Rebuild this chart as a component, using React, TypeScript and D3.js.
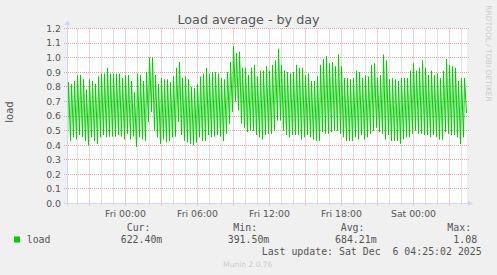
import React from "react";
import * as d3 from "d3";

// ---- data (one value per 15-minute cycle) ----
const peaks: number[] = [
  0.83, 0.82, 0.84, 0.88, 0.88, 0.85, 0.78, 0.85, 0.84, 0.82,
  0.87, 0.89, 0.89, 0.93, 0.89, 0.89, 0.89, 0.89, 0.86, 0.88,
  0.88, 0.84, 0.76, 0.89, 0.88, 0.84, 0.90, 1.00, 1.00, 0.88,
  0.82, 0.86, 0.85, 0.85, 0.83, 0.87, 0.93, 0.97, 0.86, 0.87,
  0.85, 0.80, 0.79, 0.82, 0.87, 0.89, 0.93, 0.89, 0.90, 0.90,
  0.89, 0.86, 0.85, 0.90, 0.97, 1.08, 1.03, 1.04, 0.93, 0.93,
  0.88, 0.93, 0.95, 0.87, 0.91, 0.91, 0.94, 0.91, 0.95, 0.98,
  1.06, 0.95, 0.91, 0.90, 0.89, 0.90, 0.95, 0.93, 0.93, 0.88,
  0.89, 0.84, 0.84, 0.87, 0.95, 0.99, 1.01, 0.96, 0.97, 0.94,
  1.02, 0.94, 0.86, 0.86, 0.85, 0.86, 0.91, 0.90, 0.86, 0.88,
  0.87, 0.95, 0.96, 0.86, 0.88, 1.02, 0.98, 0.85, 0.86, 0.85,
  0.84, 0.86, 0.86, 0.86, 0.91, 0.96, 0.91, 0.93, 0.98, 0.93,
  0.88, 0.91, 0.88, 0.89, 0.86, 0.91, 0.99, 0.95, 0.94, 0.93,
  0.84, 0.86, 0.86,
];

const troughs: number[] = [
  0.45, 0.43, 0.455, 0.44, 0.47, 0.455, 0.43, 0.40, 0.455, 0.43,
  0.41, 0.455, 0.47, 0.455, 0.46, 0.46, 0.46, 0.47, 0.46, 0.44,
  0.48, 0.44, 0.46, 0.39, 0.455, 0.44, 0.43, 0.56, 0.63, 0.50,
  0.455, 0.41, 0.44, 0.42, 0.43, 0.455, 0.46, 0.56, 0.47, 0.43,
  0.42, 0.41, 0.40, 0.42, 0.455, 0.43, 0.43, 0.47, 0.455, 0.46,
  0.47, 0.46, 0.43, 0.48, 0.55, 0.63, 0.70, 0.64, 0.55, 0.52,
  0.49, 0.50, 0.50, 0.47, 0.455, 0.44, 0.47, 0.48, 0.48, 0.50,
  0.57, 0.57, 0.50, 0.47, 0.455, 0.47, 0.47, 0.47, 0.44, 0.455,
  0.47, 0.455, 0.44, 0.43, 0.43, 0.49, 0.48, 0.48, 0.49, 0.50,
  0.50, 0.48, 0.455, 0.43, 0.43, 0.43, 0.455, 0.44, 0.47, 0.44,
  0.455, 0.48, 0.50, 0.52, 0.49, 0.48, 0.44, 0.47, 0.43, 0.43,
  0.43, 0.41, 0.44, 0.455, 0.455, 0.48, 0.50, 0.48, 0.48, 0.47,
  0.47, 0.455, 0.47, 0.455, 0.44, 0.44, 0.49, 0.48, 0.47, 0.47,
  0.455, 0.41, 0.455, 0.62,
];

const seriesStart = new Date(2025, 11, 4, 19, 10);
const domainEnd = new Date(2025, 11, 6, 4, 30);
const cycleMinutes = 15;
const peakOffsetMinutes = 5;

const yTickValues: number[] = [0, 0.1, 0.2, 0.3, 0.4, 0.5, 0.6, 0.7, 0.8, 0.9, 1.0, 1.1, 1.2];
const titleText = "Load average - by day";
const yAxisLabel = "load";
const seriesName = "load";
const legendHeaders: string[] = ["Cur:", "Min:", "Avg:", "Max:"];
const legendValues: string[] = ["622.40m", "391.50m", "684.21m", "1.08"];
const lastUpdate = "Last update: Sat Dec  6 04:25:02 2025";
const sideText = "RRDTOOL / TOBI OETIKER";
const footer = "Munin 2.0.76";

type Pt = { t: Date; v: number };

function buildPoints(): Pt[] {
  const pts: Pt[] = [];
  const ms = 60000;
  for (let k = 0; k < peaks.length; k++) {
    const t0 = seriesStart.getTime() + k * cycleMinutes * ms;
    pts.push({ t: new Date(t0), v: troughs[k] });
    pts.push({ t: new Date(t0 + peakOffsetMinutes * ms), v: peaks[k] });
  }
  const tl = seriesStart.getTime() + peaks.length * cycleMinutes * ms;
  pts.push({ t: new Date(tl), v: troughs[peaks.length] });
  return pts;
}

export default function App() {
  const W = 497;
  const H = 275;
  const left = 67.5;
  const right = 467.5;
  const bottom = 203.5;
  const top = 28.5;

  const x = d3.scaleTime().domain([seriesStart, domainEnd]).range([left, right]);
  const y = d3.scaleLinear().domain([0, 1.2]).range([bottom, top]);

  const pts = buildPoints();
  const line = d3
    .line<Pt>()
    .x((d) => x(d.t))
    .y((d) => y(d.v));

  const hours = x.ticks(d3.timeHour.every(1) as any);
  const major = hours.filter((d) => d.getHours() % 3 === 0);
  const minor = hours.filter((d) => d.getHours() % 3 !== 0);
  const labelTicks = hours.filter((d) => d.getHours() % 6 === 0);
  const fmt = d3.timeFormat("%a %H:%M");
  const yFmt = d3.format(".1f");

  const sans = "'DejaVu Sans', sans-serif";
  const mono = "'DejaVu Sans Mono', monospace";
  const fontCol = "#555555";
  const axisCol = "#CFD6F8";
  const majorCol = "#E8A3A3";
  const minorCol = "#C8C8C8";

  const headerX = [126.7, 233.3, 340.7, 447.3];
  const valueX = [120.7, 227.7, 335, 453.3];

  return (
    <svg
      width={W}
      height={H}
      style={{ position: "absolute", left: 0, top: 0, display: "block" }}
      xmlns="http://www.w3.org/2000/svg"
    >
      <rect x={0} y={0} width={W} height={H} fill="#F0F0F0" />
      <rect x={67} y={28} width={400} height={175.5} fill="#FFFFFF" />

      {/* minor vertical grid */}
      {minor.map((d, i) => (
        <line
          key={"mn" + i}
          x1={Math.round(x(d) - 0.5) + 0.5}
          x2={Math.round(x(d) - 0.5) + 0.5}
          y1={top}
          y2={205}
          stroke={minorCol}
          strokeDasharray="1,1"
        />
      ))}
      {/* major vertical grid */}
      {major.map((d, i) => (
        <line
          key={"mj" + i}
          x1={Math.round(x(d) - 0.5) + 0.5}
          x2={Math.round(x(d) - 0.5) + 0.5}
          y1={top}
          y2={206}
          stroke={majorCol}
          strokeDasharray="1,1"
        />
      ))}
      {/* horizontal grid */}
      {yTickValues
        .filter((v) => v > 0)
        .map((v, i) => (
          <line
            key={"h" + i}
            x1={64}
            x2={469}
            y1={Math.round(y(v) - 0.5) + 0.5}
            y2={Math.round(y(v) - 0.5) + 0.5}
            stroke={majorCol}
            strokeDasharray="1,1"
          />
        ))}

      {/* data line */}
      <path d={line(pts) || ""} fill="none" stroke="#00CC00" strokeWidth={1} />

      {/* axes */}
      <line x1={64} x2={470} y1={bottom} y2={bottom} stroke={axisCol} />
      <path d={`M468,${bottom - 3} L473,${bottom} L468,${bottom + 3} Z`} fill={axisCol} />
      <line x1={left} x2={left} y1={206} y2={24} stroke={axisCol} />
      <path d={`M${left - 3},25 L${left},20 L${left + 3},25 Z`} fill={axisCol} />

      {/* y tick labels */}
      {yTickValues.map((v, i) => (
        <text
          key={"yl" + i}
          x={61}
          y={y(v)}
          dy="0.36em"
          textAnchor="end"
          fontFamily={sans}
          fontSize={9.3}
          fill={fontCol}
        >
          {yFmt(v)}
        </text>
      ))}

      {/* x tick labels */}
      {labelTicks.map((d, i) => (
        <text
          key={"xl" + i}
          x={x(d)}
          y={216.5}
          textAnchor="middle"
          fontFamily={sans}
          fontSize={9.3}
          fill={fontCol}
        >
          {fmt(d)}
        </text>
      ))}

      {/* title */}
      <text x={248.5} y={23.5} textAnchor="middle" fontFamily={sans} fontSize={12.7} fill={fontCol}>
        {titleText}
      </text>

      {/* y axis label */}
      <text
        transform="translate(12.5,112) rotate(-90)"
        textAnchor="middle"
        fontFamily={sans}
        fontSize={10}
        fill={fontCol}
      >
        {yAxisLabel}
      </text>

      {/* side text */}
      <text
        transform="translate(486,53.5) rotate(90)"
        textAnchor="middle"
        fontFamily={sans}
        fontSize={7.5}
        fill="#CCCCCC"
      >
        {sideText}
      </text>

      {/* legend */}
      <rect x={14} y={236.5} width={6} height={6} fill="#00CC00" />
      <text x={26.7} y={242.5} fontFamily={mono} fontSize={9.9} fill={fontCol} style={{ whiteSpace: "pre" }}>
        {seriesName}
      </text>
      {legendHeaders.map((h, i) => (
        <text key={"lh" + i} x={headerX[i]} y={231} fontFamily={mono} fontSize={9.9} fill={fontCol}>
          {h}
        </text>
      ))}
      {legendValues.map((v, i) => (
        <text key={"lv" + i} x={valueX[i]} y={242.5} fontFamily={mono} fontSize={9.9} fill={fontCol}>
          {v}
        </text>
      ))}
      <text
        x={261.7}
        y={255}
        fontFamily={mono}
        fontSize={9.9}
        fill={fontCol}
        xmlSpace="preserve"
        style={{ whiteSpace: "pre" }}
      >
        {lastUpdate}
      </text>

      <text x={223.3} y={267} fontFamily={sans} fontSize={7.5} fill="#CCCCCC">
        {footer}
      </text>
    </svg>
  );
}
